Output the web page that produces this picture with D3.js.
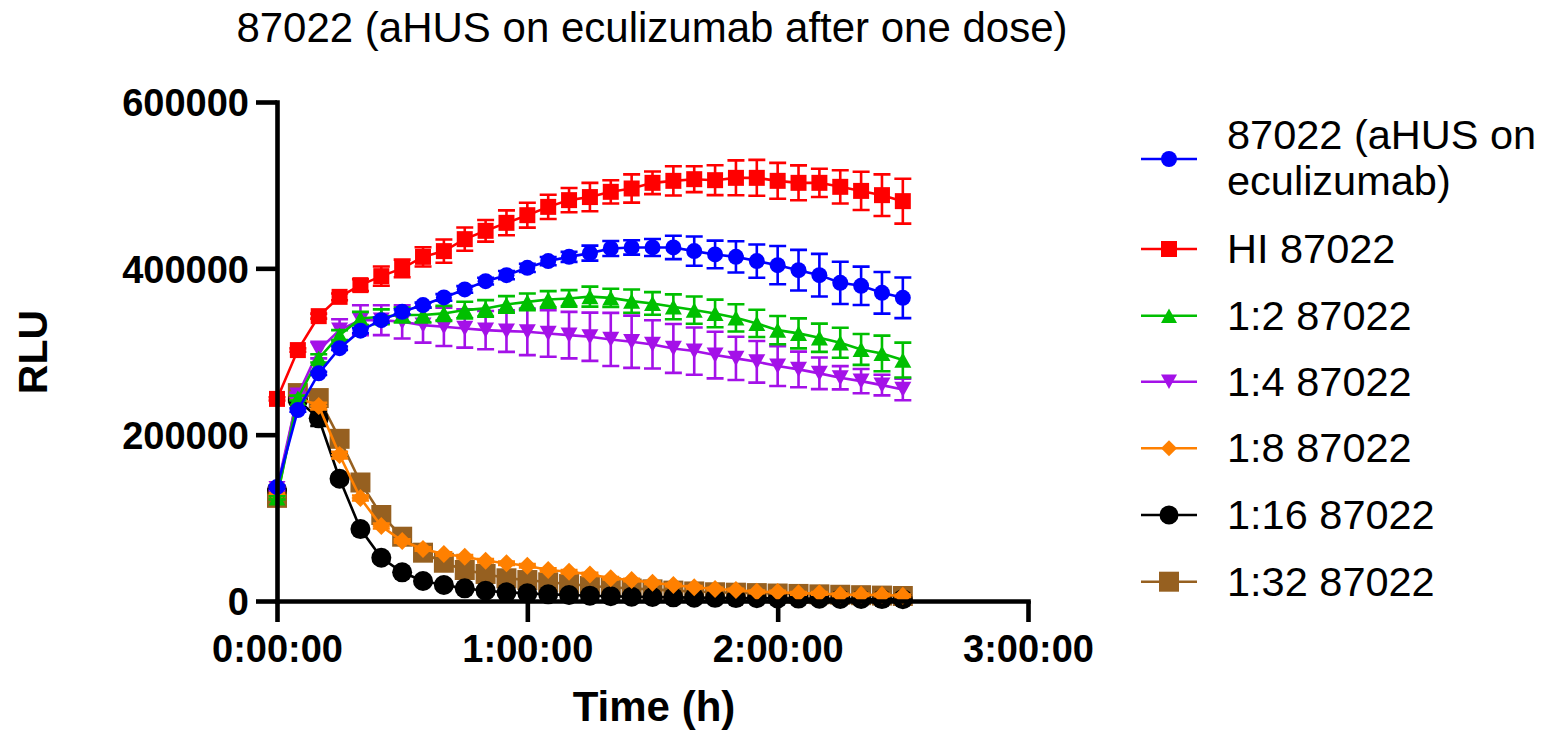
<!DOCTYPE html>
<html>
<head>
<meta charset="utf-8">
<script src="https://cdn.jsdelivr.net/npm/d3@7"></script>
<style>
  html, body { margin: 0; padding: 0; background: #fff; }
  svg { display: block; }
  text { font-family: "Liberation Sans", Arial, sans-serif; }
</style>
</head>
<body>
<script>
// ---------------- DATA ----------------
const title = "87022 (aHUS on eculizumab after one dose)";
const xTitle = "Time (h)";
const yTitle = "RLU";
const timeMinutes = [0,5,10,15,20,25,30,35,40,45,50,55,60,65,70,75,80,85,90,95,100,105,110,115,120,125,130,135,140,145,150];
const xTickMinutes = [0, 60, 120, 180];
const xTickLabels = ["0:00:00", "1:00:00", "2:00:00", "3:00:00"];
const yTickValues = [0, 200000, 400000, 600000];
const yTickLabels = ["0", "200000", "400000", "600000"];

const seriesNames = ["87022 (aHUS on eculizumab)", "HI 87022", "1:2 87022", "1:4 87022", "1:8 87022", "1:16 87022", "1:32 87022"];

const blueMean = [137000,229600,273700,304000,325000,337700,347700,355800,365000,374600,384600,391800,400600,408700,413800,418300,423900,425100,425100,425100,420700,416700,413800,408700,403800,397800,391800,382600,379000,370600,364500];
const blueErr  = [2000,2000,2000,2000,3000,3000,3000,3000,4000,4000,4000,5000,5000,5000,6000,9000,9000,8600,10200,14000,17600,16600,18800,20000,23000,24400,25600,25400,23000,25000,24400];

const redMean = [243000,301700,342500,365700,379800,390600,399900,413800,420700,435100,445100,454700,463900,473900,482000,485700,492000,496000,502800,505200,507200,506000,508800,508800,505200,502800,502800,498000,493100,488000,480800];
const redErr  = [2000,2000,3000,4000,7000,11600,10600,11600,14000,14000,13000,15000,15000,14600,14600,17000,14000,17000,13600,17600,15600,18000,21000,21600,21600,21000,17000,20000,23000,25000,27000];

const greenMean = [124000,244000,291700,319700,339700,341700,343800,343800,345800,349800,351800,356600,359700,362600,363800,366000,364500,360600,357800,353700,349800,345800,340500,333800,325700,321800,316500,310500,302500,297700,289700];
const greenErr  = [2000,3000,5000,6000,8000,9000,9000,9000,9000,10000,10000,10000,10000,10000,10000,12000,11000,14000,13600,15000,16400,16600,16400,16400,17000,18000,17000,18000,18600,21400,21000];

const purpleMean = [135000,247600,301700,325700,337700,337700,335700,331700,329700,327700,325700,324500,323700,321700,319700,317700,314500,311700,308500,303700,300500,295700,291700,287600,282500,278500,273700,268400,264400,259600,254400];
const purpleErr  = [2000,3000,10000,13000,18000,18000,20000,21000,23000,23000,23000,25000,28000,28000,28000,29000,32000,31400,29000,29400,28400,28000,26000,25000,24000,21400,19000,14000,14600,12400,13000];

const orangeMean = [128000,245000,234400,175500,123800,90100,72100,62500,56500,53300,48400,45300,42400,37300,35200,32000,27300,25200,22000,19200,16500,14400,13200,11000,10800,9200,9200,7600,7600,7200,6400];
const orangeErr  = [2000,3000,4000,4000,3000,3000,2000,2000,2000,2000,2000,2000,2000,2000,2000,2000,1500,1500,1500,1500,1500,1500,1500,1500,1500,1500,1500,1500,1500,1500,1500];

const blackMean = [133400,241600,219600,147000,86500,52000,34500,24000,19200,15200,12400,10400,9200,8000,7200,6400,5800,5200,4800,4400,4000,3800,3500,3300,3100,2900,2700,2500,2400,2300,2200];
const blackErr  = [2000,3000,9000,5000,3000,2000,2000,1500,1500,1500,1000,1000,1000,1000,1000,1000,1000,1000,1000,1000,1000,1000,1000,1000,1000,1000,1000,1000,1000,1000,1000];

const brownMean = [124000,250000,244000,195000,142500,103400,77300,58100,46000,37300,32500,27300,25200,22500,20400,18000,16500,15000,14000,12500,11500,10500,10000,9500,9000,8500,8000,7500,7000,6500,6000];
const brownErr  = [2000,3000,4000,4000,3000,3000,2000,2000,2000,2000,2000,1500,1500,1500,1500,1500,1500,1500,1500,1500,1500,1500,1500,1500,1500,1500,1500,1500,1500,1500,1500];

const seriesColors = ["#0000FF", "#FF0000", "#00BF00", "#A411E8", "#FF8000", "#000000", "#966020"];
const seriesShapes = ["circle", "square", "triUp", "triDown", "diamond", "circle", "square"];
const seriesMarkerSizes = [16, 16, 17, 17, 18, 20, 20];

// ---------------- BUILD ----------------
const W = 1542, H = 732;
const means = [blueMean, redMean, greenMean, purpleMean, orangeMean, blackMean, brownMean];
const errs = [blueErr, redErr, greenErr, purpleErr, orangeErr, blackErr, brownErr];
const series = seriesNames.map((name, k) => ({
  name, color: seriesColors[k], shape: seriesShapes[k], size: seriesMarkerSizes[k],
  points: timeMinutes.map((t, i) => ({ t, v: means[k][i], e: errs[k][i] }))
}));

const svg = d3.select("body").append("svg").attr("width", W).attr("height", H);

const x = d3.scaleLinear().domain([0, 180]).range([277, 1028]);
const y = d3.scaleLinear().domain([0, 600000]).range([601, 102]);

function markerPath(shape, s) {
  const h = s / 2;
  switch (shape) {
    case "circle": {
      const p = d3.path(); p.arc(0, 0, h, 0, 2 * Math.PI); p.closePath(); return p.toString();
    }
    case "square": return `M${-h},${-h}H${h}V${h}H${-h}Z`;
    case "triUp": { const th = s * 0.9 / 2; return `M0,${-th}L${h},${th}L${-h},${th}Z`; }
    case "triDown": { const th = s * 0.9 / 2; return `M0,${th}L${h},${-th}L${-h},${-th}Z`; }
    case "diamond": return `M0,${-h}L${h},0L0,${h}L${-h},0Z`;
  }
}

// title
svg.append("text").attr("x", 652).attr("y", 42).attr("text-anchor", "middle")
  .attr("font-size", 42).attr("fill", "#000").text(title);

// data: draw in reverse order so first series ends up on top
const plot = svg.append("g");
const line = d3.line().x(d => x(d.t)).y(d => y(d.v));
const capW = 17;
series.slice().reverse().forEach(s => {
  const g = plot.append("g");
  const eb = g.append("g").attr("stroke", s.color).attr("stroke-width", 2.6).attr("fill", "none");
  s.points.forEach(p => {
    const cx = x(p.t), y1 = y(p.v + p.e), y2 = y(p.v - p.e);
    eb.append("path").attr("d", `M${cx},${y1}V${y2}M${cx - capW / 2},${y1}H${cx + capW / 2}M${cx - capW / 2},${y2}H${cx + capW / 2}`);
  });
  g.append("path").datum(s.points).attr("d", line)
    .attr("fill", "none").attr("stroke", s.color).attr("stroke-width", 2.6);
  g.selectAll("path.m").data(s.points).join("path").attr("class", "m")
    .attr("d", markerPath(s.shape, s.size))
    .attr("transform", d => `translate(${x(d.t)},${y(d.v)})`)
    .attr("fill", s.color);
});

// axes
const xAxis = d3.axisBottom(x).tickValues(xTickMinutes).tickSizeInner(21).tickSizeOuter(0)
  .tickPadding(13).tickFormat((d, i) => xTickLabels[i]);
const yAxis = d3.axisLeft(y).tickValues(yTickValues).tickSizeInner(21).tickSizeOuter(0)
  .tickPadding(7).tickFormat((d, i) => yTickLabels[i]);

const gx = svg.append("g").attr("transform", "translate(0,601)").call(xAxis);
const gy = svg.append("g").attr("transform", "translate(277,0)").call(yAxis);
[gx, gy].forEach(g => {
  g.select(".domain").attr("stroke", "#000").attr("stroke-width", 4.6).attr("stroke-linecap", "square");
  g.selectAll(".tick line").attr("stroke", "#000").attr("stroke-width", 4.6);
  g.selectAll(".tick text").attr("fill", "#000").attr("font-size", 38).attr("font-weight", "bold")
    .attr("font-family", "'Liberation Sans', Arial, sans-serif");
});
gx.selectAll(".tick text").attr("dy", "0.71em");
gy.selectAll(".tick text").attr("dy", "0.36em");

// axis titles
svg.append("text").attr("x", 654).attr("y", 721).attr("text-anchor", "middle")
  .attr("font-size", 42).attr("font-weight", "bold").text(xTitle);
svg.append("text").attr("transform", "translate(47,352) rotate(-90)").attr("text-anchor", "middle")
  .attr("font-size", 41).attr("font-weight", "bold").text(yTitle);

// legend
const legendY = [159, 249, 315.7, 381.7, 448.3, 515, 581.7];
const lg = svg.append("g");
series.forEach((s, k) => {
  const cy = legendY[k];
  lg.append("line").attr("x1", 1141).attr("x2", 1197).attr("y1", cy).attr("y2", cy)
    .attr("stroke", s.color).attr("stroke-width", 2.6);
  const ls = k === 5 ? 19 : (k === 6 ? 20 : 16);
  lg.append("path").attr("d", markerPath(s.shape, ls)).attr("transform", `translate(1169,${cy})`).attr("fill", s.color);
  const t = lg.append("text").attr("x", 1227).attr("font-size", 41.5).attr("fill", "#000");
  if (k === 0) {
    t.append("tspan").attr("x", 1227).attr("y", 149).text("87022 (aHUS on");
    t.append("tspan").attr("x", 1227).attr("y", 195).text("eculizumab)");
  } else {
    t.attr("y", cy + 14).text(s.name);
  }
});
</script>
</body>
</html>
